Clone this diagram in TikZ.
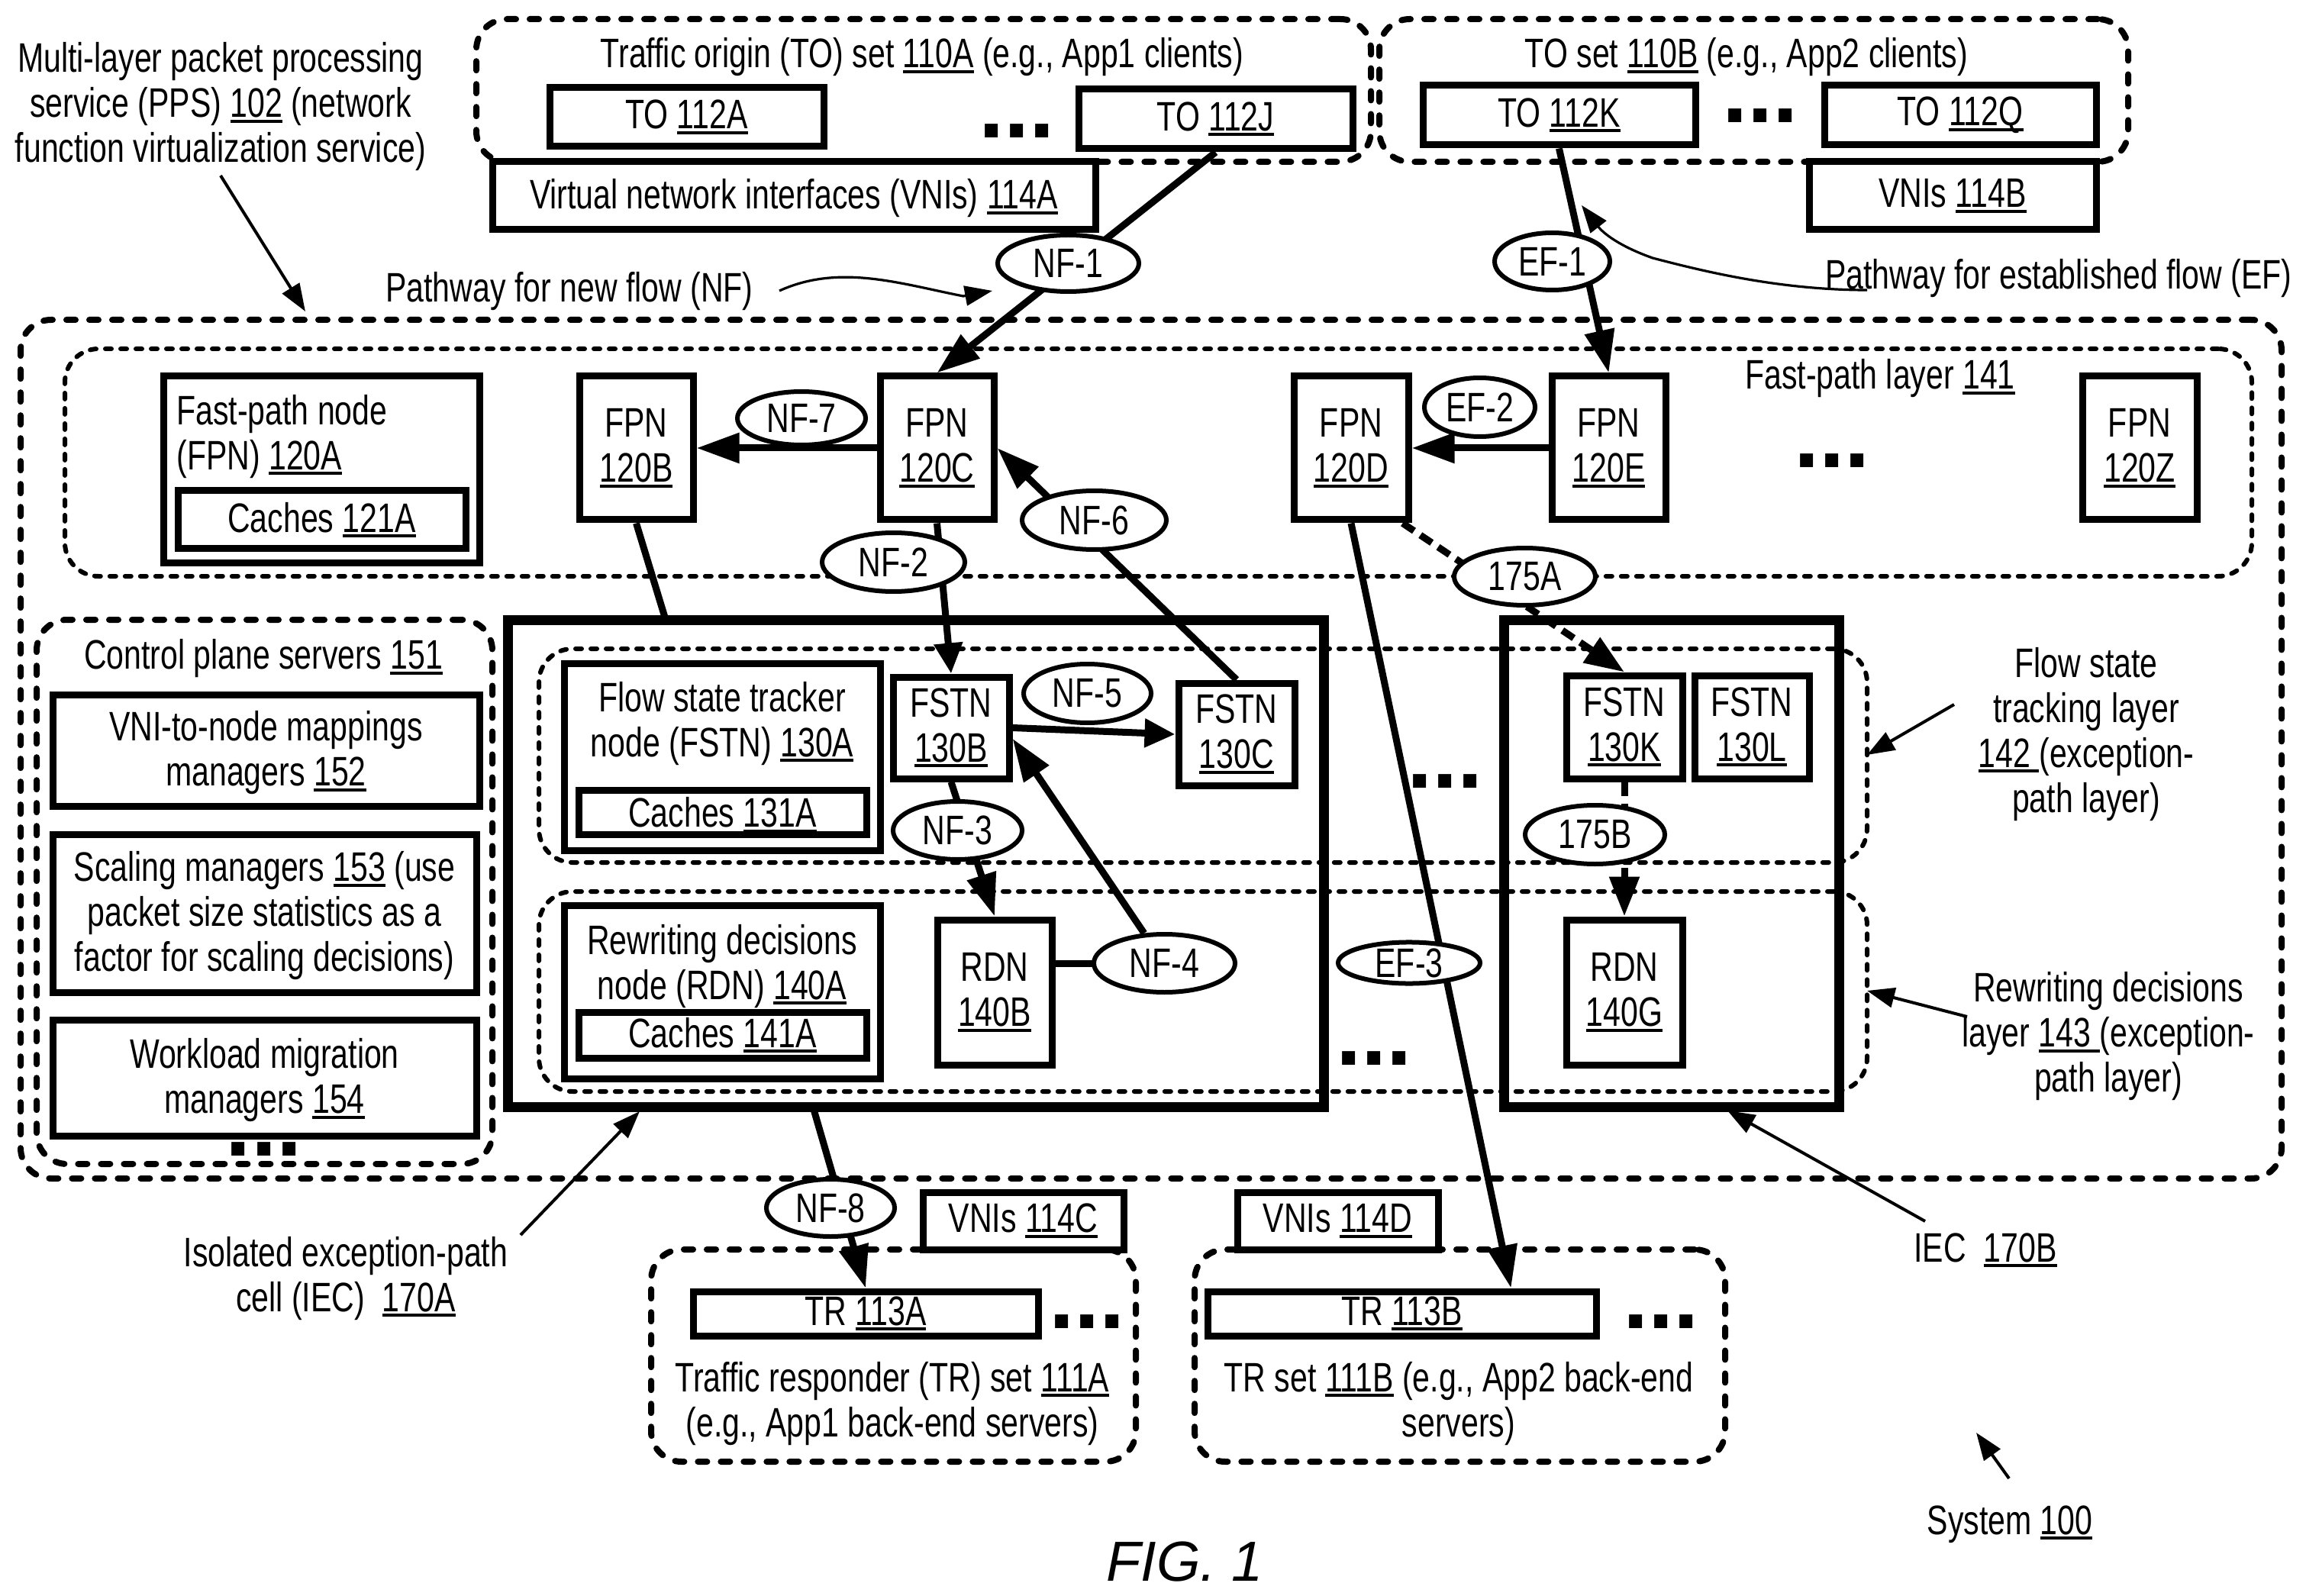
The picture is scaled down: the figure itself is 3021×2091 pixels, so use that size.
\documentclass[tikz,border=0pt]{standalone}
\usepackage{fontspec}
\setmainfont[FakeStretch=0.76]{Liberation Sans}
\newfontfamily\plainfont{Liberation Sans}
\usetikzlibrary{arrows.meta,shapes.geometric,calc}
\pgfdeclarelayer{ov}
\pgfsetlayers{main,ov}
\newcommand{\ulx}[1]{\setbox0=\hbox{#1}\rlap{\vrule width \wd0 height -1.5pt depth 3.5pt}\box0 }
\newcommand{\txtsize}{\fontsize{27}{29.5}\selectfont}
\newcommand{\tallline}{\rule{0pt}{23pt}}
\tikzset{
  every node/.style={font=\txtsize,align=center,inner sep=0pt,text=black},
  plainbox/.style={draw=black,line width=4.5pt,fill=white,rectangle},
  iecbox/.style={draw=black,line width=6.5pt,rectangle},
  dashgroup/.style={draw=black,line width=4pt,rectangle,rounded corners=20pt,line cap=round,dash pattern=on 6pt off 9pt},
  dotgroup/.style={draw=black,line width=3pt,rectangle,rounded corners=22pt,line cap=round,dash pattern=on 4pt off 6pt},
  bubble/.style={draw=black,line width=3pt,fill=white,ellipse},
  heavy/.style={draw=black,line width=4.5pt,-{Triangle[length=28pt,width=19pt]}},
  heavyshort/.style={draw=black,line width=4.5pt,-{Triangle[length=20pt,width=18pt]}},
  heavyplain/.style={draw=black,line width=4.5pt},
  heavydash/.style={draw=black,line width=4.5pt,dash pattern=on 9pt off 5pt,-{Triangle[length=26pt,width=19pt]}},
  thinarrow/.style={draw=black,line width=2pt,-{Triangle[length=18pt,width=13pt]}},
  curvearrow/.style={draw=black,line width=1.6pt,-{Triangle[length=18pt,width=13pt]}},
  dotsnode/.style={anchor=base,font=\plainfont\bfseries\fontsize{60}{60}\selectfont}
}
% style, name, x1, y1, x2, y2, inset, text
\newcommand{\bx}[8]{\pgfmathsetmacro\wA{(#5-#3-#7)*0.5}\pgfmathsetmacro\hA{(#6-#4-#7)*0.5}%
  \node[#1,minimum width=\wA pt,minimum height=\hA pt] (#2) at ({(#3+#5)/2},{(#4+#6)/2}) {#8};}
\newcommand{\el}[6]{\begin{pgfonlayer}{ov}\bx{bubble}{#1}{#2}{#3}{#4}{#5}{0}{#6}\end{pgfonlayer}}
\newcommand{\dt}[3]{\node[dotsnode] (#1) at (#2,#3) {.\kern0pt.\kern0pt.};}
\begin{document}
\begin{tikzpicture}[x=0.5pt,y=-0.5pt]
\fill[white] (0,0) rectangle (3021,2091);
\useasboundingbox (0,0) rectangle (3021,2091);

% containers
\bx{dashgroup}{pps}{27}{419}{2989}{1544}{0}{}
\bx{dotgroup}{fastlayer}{85}{457}{2950}{755}{0}{}
\bx{dashgroup}{to110a}{624}{25}{1796}{212}{0}{}
\bx{dashgroup}{to110b}{1807}{25}{2788}{212}{0}{}
\bx{dashgroup}{cp151}{48}{812}{645}{1525}{0}{}
\bx{iecbox}{iec170a}{665}{812}{1734}{1450}{0}{}
\bx{iecbox}{iec170b}{1970}{812}{2409}{1450}{0}{}
\bx{dotgroup}{layer142}{706}{850}{2446}{1130}{0}{}
\bx{dotgroup}{layer143}{706}{1168}{2446}{1430}{0}{}
\bx{dashgroup}{tr111a}{853}{1637}{1488}{1915}{0}{}
\bx{dashgroup}{tr111b}{1565}{1637}{2260}{1915}{0}{}

% boxes
\bx{plainbox}{to112a}{720}{115}{1079}{192}{0}{TO \ulx{112A}}
\bx{plainbox}{to112j}{1413}{117}{1772}{195}{0}{TO \ulx{112J}}
\bx{plainbox}{vni114a}{645}{212}{1435}{301}{0}{\tallline Virtual network interfaces (VNIs) \ulx{114A}}
\bx{plainbox}{to112k}{1864}{112}{2221}{190}{0}{TO \ulx{112K}}
\bx{plainbox}{to112q}{2390}{112}{2746}{190}{0}{TO \ulx{112Q}}
\bx{plainbox}{vni114b}{2370}{212}{2746}{301}{0}{VNIs \ulx{114B}}

\bx{plainbox}{fpn120a}{214}{493}{628}{738}{0}{}
\bx{plainbox}{cache121a}{233}{643}{610}{719}{0}{Caches \ulx{121A}}
\bx{plainbox}{fpn120b}{759}{493}{908}{681}{0}{FPN\\\ulx{120B}}
\bx{plainbox}{fpn120c}{1153}{493}{1302}{681}{0}{FPN\\\ulx{120C}}
\bx{plainbox}{fpn120d}{1695}{493}{1845}{681}{0}{FPN\\\ulx{120D}}
\bx{plainbox}{fpn120e}{2033}{493}{2182}{681}{0}{FPN\\\ulx{120E}}
\bx{plainbox}{fpn120z}{2728}{493}{2878}{681}{0}{FPN\\\ulx{120Z}}

\bx{plainbox}{mgr152}{69}{910}{628}{1056}{0}{\tallline VNI-to-node mappings\\managers \ulx{152}}
\bx{plainbox}{mgr153}{69}{1093}{624}{1300}{0}{\tallline Scaling managers \ulx{153} (use\\packet size statistics as a\\factor for scaling decisions)}
\bx{plainbox}{mgr154}{69}{1336}{624}{1488}{0}{\tallline Workload migration\\managers \ulx{154}}

\bx{plainbox}{fstn130a}{739}{869}{1153}{1114}{0}{}
\bx{plainbox}{cache131a}{758}{1035}{1135}{1093}{0}{\tallline Caches \ulx{131A}}
\bx{plainbox}{fstn130b}{1170}{887}{1322}{1020}{0}{FSTN\\\ulx{130B}}
\bx{plainbox}{fstn130c}{1544}{895}{1696}{1029}{0}{FSTN\\\ulx{130C}}
\bx{plainbox}{fstn130k}{2052}{885}{2204}{1020}{0}{FSTN\\\ulx{130K}}
\bx{plainbox}{fstn130l}{2220}{885}{2370}{1020}{0}{FSTN\\\ulx{130L}}
\bx{plainbox}{rdn140a}{739}{1186}{1153}{1413}{0}{}
\bx{plainbox}{cache141a}{758}{1326}{1135}{1386}{0}{Caches \ulx{141A}}
\bx{plainbox}{rdn140b}{1228}{1205}{1378}{1395}{0}{RDN\\\ulx{140B}}
\bx{plainbox}{rdn140g}{2052}{1205}{2204}{1395}{0}{RDN\\\ulx{140G}}

\bx{plainbox}{vni114c}{1209}{1562}{1472}{1637}{0}{VNIs \ulx{114C}}
\bx{plainbox}{vni114d}{1621}{1562}{1884}{1637}{0}{VNIs \ulx{114D}}
\bx{plainbox}{tr113a}{908}{1692}{1360}{1750}{0}{TR \ulx{113A}}
\bx{plainbox}{tr113b}{1582}{1692}{2091}{1750}{0}{TR \ulx{113B}}

% labels
\node (lblpps) at (289,140) {Multi-layer packet processing\\service (PPS) \ulx{102} (network\\function virtualization service)};
\node (lbl110a) at (1208,75) {Traffic origin (TO) set \ulx{110A} (e.g., App1 clients)};
\node (lbl110b) at (2288,75) {TO set \ulx{110B} (e.g., App2 clients)};
\node (lblnf) at (746,382) {Pathway for new flow (NF)};
\node (lblef) at (2697,365) {Pathway for established flow (EF)};
\node (lbl141) at (2463,496) {Fast-path layer \ulx{141}};
\node (lbl151) at (345,863) {Control plane servers \ulx{151}};
\node[align=left,anchor=west] (lbl120a) at (231,572) {Fast-path node\\(FPN) \ulx{120A}};
\node (lbl130a) at (946,948) {Flow state tracker\\node (FSTN) \ulx{130A}};
\node (lbl140a) at (946,1266) {Rewriting decisions\\node (RDN) \ulx{140A}};
\node (lbl142) at (2733,962) {Flow state\\tracking layer\\\ulx{142\ }(exception-\\path layer)};
\node (lbl143) at (2762,1358) {Rewriting decisions\\layer \ulx{143\ }(exception-\\path layer)};
\node (lbl170a) at (453,1675) {Isolated exception-path\\cell (IEC)\ \ \ulx{170A}};
\node (lbl170b) at (2601,1638) {IEC\ \ \ulx{170B}};
\node (lbl111a) at (1169,1839) {Traffic responder (TR) set \ulx{111A}\\(e.g., App1 back-end servers)};
\node (lbl111b) at (1911,1839) {TR set \ulx{111B} (e.g., App2 back-end\\servers)};
\node (lbl100) at (2633,1997) {System \ulx{100}};
\node[font=\plainfont\itshape\fontsize{37}{40}\selectfont] (fig) at (1552,2046) {FIG. 1};

% dots
\dt{dotsA}{1332}{181}
\dt{dotsB}{2306}{161}
\dt{dotsC}{2400}{613}
\dt{dotsD}{346}{1514}
\dt{dotsE}{1893}{1032}
\dt{dotsF}{1800}{1395}
\dt{dotsG}{1424}{1740}
\dt{dotsH}{2176}{1740}

% bubbles
\el{nf1}{1307}{308}{1492}{382}{NF-1}
\el{nf7}{966}{513}{1134}{583}{NF-7}
\el{nf6}{1339}{643}{1528}{720}{NF-6}
\el{nf2}{1077}{698}{1264}{775}{NF-2}
\el{nf5}{1341}{870}{1508}{947}{NF-5}
\el{nf3}{1170}{1050}{1339}{1126}{NF-3}
\el{nf4}{1433}{1224}{1618}{1300}{NF-4}
\el{nf8}{1004}{1545}{1172}{1620}{NF-8}
\el{ef1}{1958}{305}{2109}{380}{EF-1}
\el{ef2}{1866}{495}{2011}{572}{EF-2}
\el{ef3}{1753}{1235}{1939}{1288}{EF-3}
\el{b175a}{1905}{718}{2090}{793}{175A}
\el{b175b}{1998}{1055}{2181}{1132}{175B}

% connectors
\coordinate (iecatop) at (872,812);
\coordinate (iecabot) at (1065,1450);
\draw[heavy] (to112j.south) -- (fpn120c.north);
\draw[heavy] (to112k.south) -- (fpn120e.north);
\draw[heavy] (fpn120c.west) -- (fpn120b.east);
\draw[heavy] (fpn120e.west) -- (fpn120d.east);
\draw[heavy] (fstn130c.north) -- (fpn120c.east);
\draw[heavyshort] (fpn120c.south) -- (fstn130b.north);
\draw[heavyplain] (fpn120b.south) -- (iecatop);
\draw[heavy] (iecabot) -- (tr113a.north);
\draw[heavyshort] (fstn130b.east) -- (fstn130c.west);
\draw[heavy] (fstn130b.south) -- (rdn140b.north);
\draw[heavyplain,line cap=round] ([yshift=19pt]rdn140b.east) -- (nf4);
\draw[heavy] (nf4) -- (fstn130b.-10);
\draw[heavy] (fpn120d.south) -- ([xshift=71.5pt]tr113b.north);
\draw[heavydash] ([xshift=-6pt]fpn120d.south east) -- (fstn130k.north);
\draw[heavydash] (fstn130k.south) -- (rdn140g.north);

% thin pointers
\coordinate (ppsfrom) at (289,230);
\coordinate (ppsto) at (400,408);
\draw[thinarrow] (ppsfrom) -- (ppsto);
\coordinate (nffrom) at (1021,381);
\coordinate (nfto) at (1300,381);
\draw[curvearrow] (nffrom) .. controls (1100,345) and (1180,372) .. (1262,388) -- (nfto);
\coordinate (effrom) at (2446,380);
\coordinate (efto) at (2072,269);
\draw[curvearrow] (effrom) .. controls (2330,380) and (2230,355) .. (2165,338) .. controls (2120,322) and (2100,305) .. (efto);
\coordinate (iecafrom) at (682,1618);
\coordinate (iecato) at (838,1456);
\draw[thinarrow] (iecafrom) -- (iecato);
\coordinate (iecbfrom) at (2522,1600);
\coordinate (iecbto) at (2263,1455);
\draw[thinarrow] (iecbfrom) -- (iecbto);
\coordinate (l142from) at (2560,923);
\coordinate (l142to) at (2446,989);
\draw[thinarrow] (l142from) -- (l142to);
\coordinate (l143from) at (2577,1332);
\coordinate (l143to) at (2446,1298);
\draw[thinarrow] (l143from) -- (l143to);
\coordinate (sysfrom) at (2632,1937);
\coordinate (systo) at (2589,1877);
\draw[thinarrow] (sysfrom) -- (systo);
\end{tikzpicture}
\end{document}
